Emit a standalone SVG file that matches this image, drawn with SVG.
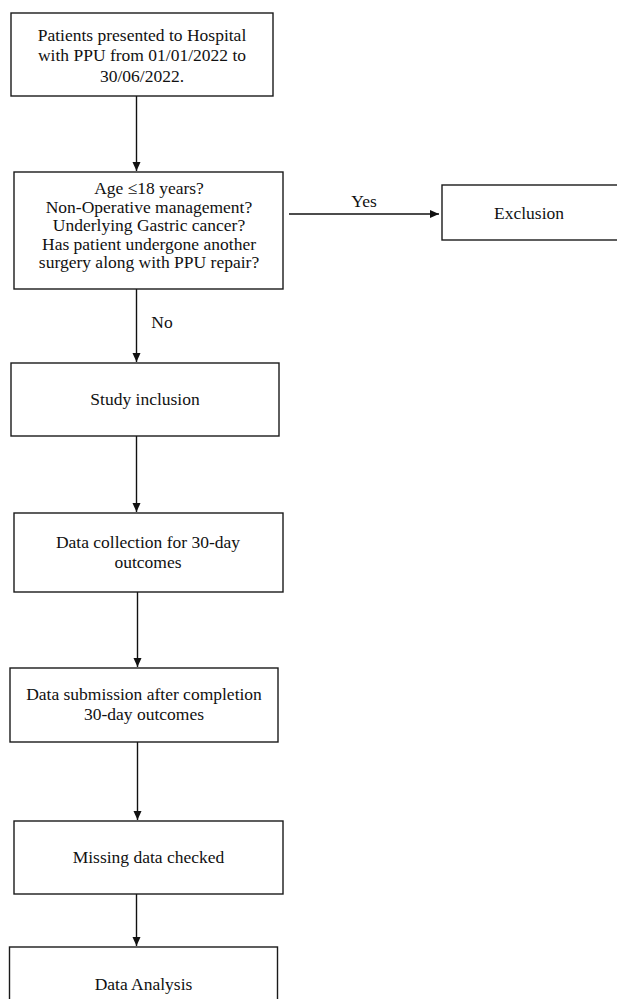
<svg xmlns="http://www.w3.org/2000/svg" width="617" height="999" viewBox="0 0 617 999">
<style>
.box{fill:#fff;stroke:#1a1a1a;stroke-width:1.4}
.t{font-family:"Liberation Serif","Times New Roman",serif;font-size:17.5px;fill:#111;text-anchor:middle}
.c{stroke:#111;stroke-width:1.4;fill:none}
</style>
<defs>
<marker id="ah" markerWidth="10" markerHeight="10" refX="9" refY="4" orient="auto" markerUnits="userSpaceOnUse">
<path d="M0,0 L9,4 L0,8 Z" fill="#111"/>
</marker>
</defs>
<rect width="617" height="999" fill="#fff"/>
<g id="connectors">
<line class="c" x1="136.5" y1="96" x2="136.5" y2="171" marker-end="url(#ah)"/>
<line class="c" x1="136.5" y1="289" x2="136.5" y2="362" marker-end="url(#ah)"/>
<text class="t" x="162" y="328">No</text>
<line class="c" x1="289" y1="214" x2="439" y2="214" marker-end="url(#ah)"/>
<text class="t" x="364" y="207">Yes</text>
<line class="c" x1="136.5" y1="436" x2="136.5" y2="512" marker-end="url(#ah)"/>
<line class="c" x1="137.5" y1="592" x2="137.5" y2="667" marker-end="url(#ah)"/>
<line class="c" x1="137.5" y1="742" x2="137.5" y2="820" marker-end="url(#ah)"/>
<line class="c" x1="136.5" y1="894" x2="136.5" y2="946" marker-end="url(#ah)"/>
</g>
<g id="n1">
<rect class="box" x="11" y="13" width="262" height="83"/>
<text class="t" x="142" y="40.5">Patients presented to Hospital</text>
<text class="t" x="142" y="61">with PPU from 01/01/2022 to</text>
<text class="t" x="142" y="81.5">30/06/2022.</text>
</g>
<g id="n2">
<rect class="box" x="14" y="172" width="269" height="117"/>
<text class="t" x="149" y="194">Age ≤18 years?</text>
<text class="t" x="149" y="212.5">Non-Operative management?</text>
<text class="t" x="149" y="231">Underlying Gastric cancer?</text>
<text class="t" x="149" y="249.5">Has patient undergone another</text>
<text class="t" x="149" y="268">surgery along with PPU repair?</text>
</g>
<g id="n3">
<rect class="box" x="442" y="185" width="180" height="55"/>
<text class="t" x="529" y="218.5">Exclusion</text>
</g>
<g id="n4">
<rect class="box" x="11" y="363" width="268" height="73"/>
<text class="t" x="145" y="405">Study inclusion</text>
</g>
<g id="n5">
<rect class="box" x="14" y="513" width="269" height="79"/>
<text class="t" x="148" y="548">Data collection for 30-day</text>
<text class="t" x="148" y="568">outcomes</text>
</g>
<g id="n6">
<rect class="box" x="10" y="668" width="268" height="74"/>
<text class="t" x="144" y="700">Data submission after completion</text>
<text class="t" x="144" y="720">30-day outcomes</text>
</g>
<g id="n7">
<rect class="box" x="14" y="821" width="269" height="73"/>
<text class="t" x="148.5" y="863">Missing data checked</text>
</g>
<g id="n8">
<rect class="box" x="9.5" y="947" width="268" height="60"/>
<text class="t" x="143.5" y="990">Data Analysis</text>
</g>
</svg>
